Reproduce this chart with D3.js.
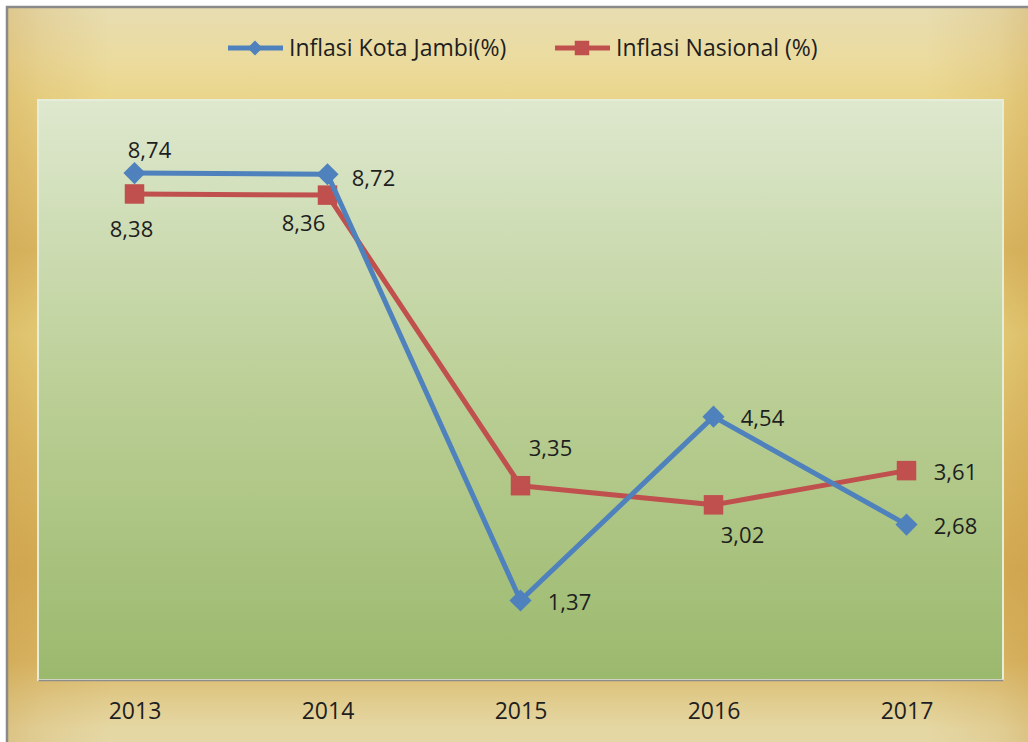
<!DOCTYPE html>
<html>
<head>
<meta charset="utf-8">
<script src="https://cdn.jsdelivr.net/npm/d3@7"></script>
<style>
  body { margin: 0; background: #fff; }
  text { font-family: "Open Sans", sans-serif; fill: #1e1e1e; }
</style>
</head>
<body>
<div id="svgContainer"></div>
<script>
// chart data
var years = ["2013", "2014", "2015", "2016", "2017"];
var jambi = [8.74, 8.72, 1.37, 4.54, 2.68];
var nasional = [8.38, 8.36, 3.35, 3.02, 3.61];
var seriesNames = ["Inflasi Kota Jambi(%)", "Inflasi Nasional (%)"];

// label offsets (dx, dy of label centre from the marker)
var jambiLabelPos = [[15, -23], [46, 4], [49, 2], [49, 2], [49, 2]];
var nasionalLabelPos = [[-3, 35], [-24, 28], [30, -37], [29, 30], [49, 2]];

var width = 1028, height = 742;
var plot = {left: 38, top: 100, right: 1003, bottom: 680};

var svg = d3.select("#svgContainer")
    .append("svg")
    .attr("width", width)
    .attr("height", height);

var defs = svg.append("defs");

// gold frame gradient (vertical bands)
var gold = defs.append("linearGradient").attr("id", "gold")
    .attr("x1", 0).attr("y1", 0).attr("x2", 0).attr("y2", 1);
[[0, "#e7ddb2"], [0.07, "#ebdb9e"], [0.12, "#ead68b"], [0.32, "#dab966"],
 [0.43, "#e7d27f"], [0.59, "#dcbb67"], [0.74, "#d4ac57"], [0.86, "#d9b767"],
 [0.91, "#e0cb8c"], [0.95, "#e5d7a3"], [1, "#e4d9aa"]].forEach(function(s) {
    gold.append("stop").attr("offset", s[0]).attr("stop-color", s[1]);
});

// darker edges on left / right
var edge = defs.append("linearGradient").attr("id", "edge")
    .attr("x1", 0).attr("y1", 0).attr("x2", 1).attr("y2", 0);
[[0, 0.3], [0.035, 0.15], [0.1, 0], [0.9, 0], [0.97, 0.15], [1, 0.3]].forEach(function(s) {
    edge.append("stop").attr("offset", s[0]).attr("stop-color", "#c8953a").attr("stop-opacity", s[1]);
});

// green plot area gradient
var green = defs.append("linearGradient").attr("id", "green")
    .attr("x1", 0).attr("y1", 0).attr("x2", 0).attr("y2", 1);
[[0, "#dee8ce"], [0.5, "#bbcf96"], [1, "#9bb96d"]].forEach(function(s) {
    green.append("stop").attr("offset", s[0]).attr("stop-color", s[1]);
});

// chart frame
svg.append("rect")
    .attr("x", 7).attr("y", 7)
    .attr("width", 1040).attr("height", 760)
    .attr("fill", "url(#gold)");
svg.append("rect")
    .attr("x", 7).attr("y", 7)
    .attr("width", 1021).attr("height", 760)
    .attr("fill", "url(#edge)");
svg.append("rect")
    .attr("x", 7).attr("y", 7)
    .attr("width", 1040).attr("height", 760)
    .attr("fill", "none")
    .style("stroke", "#8a8a8a")
    .style("stroke-width", 2.5);

// plot area
svg.append("rect")
    .attr("x", plot.left).attr("y", plot.top)
    .attr("width", plot.right - plot.left).attr("height", plot.bottom - plot.top)
    .attr("fill", "url(#green)")
    .style("stroke", "#e6edd9")
    .style("stroke-width", 2);

// scales
var x = d3.scalePoint()
    .domain(years)
    .range([plot.left, plot.right])
    .padding(0.5);
var y = d3.scaleLinear()
    .domain([0, 10])
    .range([plot.bottom, plot.top]);

// x axis
var xAxis = svg.append("g")
    .attr("transform", "translate(0," + plot.bottom + ")")
    .call(d3.axisBottom(x).tickSize(0).tickPadding(23));
xAxis.select(".domain").style("stroke", "#8c8c8c").style("stroke-width", 1.5);
xAxis.selectAll("text")
    .style("font-family", "'Open Sans', sans-serif")
    .style("font-size", "23px")
    .style("fill", "#1e1e1e");

var colors = ["#4f81bd", "#c0504d"];
var diamond = d3.symbol().type(d3.symbolSquare).size(245);
var square = d3.symbol().type(d3.symbolSquare).size(380);

var line = d3.line()
    .x(function(d, i) { return x(years[i]); })
    .y(function(d) { return y(d); });

function drawSeries(values, color, marker, rotate, labelPos) {
    svg.append("path")
        .datum(values)
        .attr("d", line)
        .attr("fill", "none")
        .style("stroke", color)
        .style("stroke-width", 5)
        .style("stroke-linejoin", "round");
    svg.selectAll(null)
        .data(values)
        .enter().append("path")
        .attr("d", marker)
        .attr("transform", function(d, i) {
            return "translate(" + x(years[i]) + "," + y(d) + ") rotate(" + rotate + ")";
        })
        .attr("fill", color);
    svg.selectAll(null)
        .data(values)
        .enter().append("text")
        .attr("x", function(d, i) { return x(years[i]) + labelPos[i][0]; })
        .attr("y", function(d, i) { return y(d) + labelPos[i][1]; })
        .attr("dy", "0.35em")
        .attr("text-anchor", "middle")
        .style("font-size", "22px")
        .text(function(d) { return d.toFixed(2).replace(".", ","); });
}

drawSeries(nasional, colors[1], square, 0, nasionalLabelPos);
drawSeries(jambi, colors[0], diamond, 45, jambiLabelPos);

// legend
var legendX = [228, 555];
var legendMarkers = [d3.symbol().type(d3.symbolSquare).size(110), d3.symbol().type(d3.symbolSquare).size(210)];
var legend = svg.selectAll(".legend")
    .data(seriesNames)
    .enter().append("g")
    .attr("class", "legend")
    .attr("transform", function(d, i) { return "translate(" + legendX[i] + ",48)"; });
legend.append("line")
    .attr("x1", 0).attr("x2", 55)
    .style("stroke", function(d, i) { return colors[i]; })
    .style("stroke-width", 5);
legend.append("path")
    .attr("d", function(d, i) { return legendMarkers[i](); })
    .attr("transform", function(d, i) { return "translate(27,0) rotate(" + (i === 0 ? 45 : 0) + ")"; })
    .attr("fill", function(d, i) { return colors[i]; });
legend.append("text")
    .attr("x", 61)
    .attr("y", 8)
    .style("font-size", "23px")
    .text(function(d) { return d; });
</script>
</body>
</html>
